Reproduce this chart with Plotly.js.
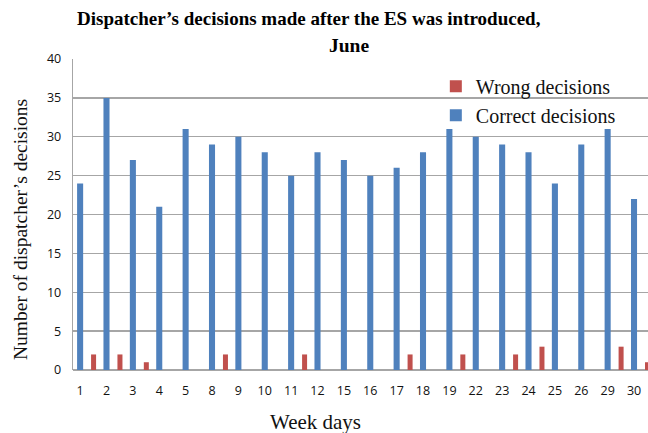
<!DOCTYPE html>
<html>
<head>
<meta charset="utf-8">
<script src="https://cdn.plot.ly/plotly-3.0.1.min.js"></script>
<style>html,body{margin:0;padding:0;background:#fff;}#chart{width:648px;height:433px;}</style>
</head>
<body>
<div id="chart"></div>
<script>
const days = ["1","2","3","4","5","8","9","10","11","12","15","16","17","18","19","22","23","24","25","26","29","30"];
const correctDecisions = [24,35,27,21,31,29,30,28,25,28,27,25,26,28,31,30,29,28,24,29,31,22];
const wrongDecisions = [2,2,1,0,0,2,0,0,2,0,0,0,2,0,2,0,2,3,0,0,3,1];
const yTicks = [0,5,10,15,20,25,30,35,40];

const serif = "Liberation Serif, Times New Roman, serif";
const sans = "Open Sans, DejaVu Sans, sans-serif";

const traces = [
  {type:"bar", name:"Wrong decisions", x:days, y:wrongDecisions,
   marker:{color:"#C0504D"}, width:0.19, offset:0.415},
  {type:"bar", name:"Correct decisions", x:days, y:correctDecisions,
   marker:{color:"#4F81BD"}, width:0.23, offset:-0.115}
];

const layout = {
  width:648, height:433,
  margin:{l:73, r:0, t:59, b:63},
  paper_bgcolor:"#fff", plot_bgcolor:"#fff",
  barmode:"overlay",
  showlegend:true,
  legend:{x:0.631, y:0.975, xanchor:"left", yanchor:"top", bgcolor:"rgba(0,0,0,0)",
    font:{family:serif, size:20, color:"#111"}, tracegroupgap:0, itemwidth:30},
  xaxis:{type:"category", range:[-0.27, 21.53], showgrid:false, zeroline:false,
    showline:false, ticks:"outside", ticklen:9, tickcolor:"rgba(0,0,0,0)",
    tickfont:{family:sans, size:12.5, color:"#111"}, fixedrange:true},
  yaxis:{range:[0,40], tickvals:yTicks, ticktext:yTicks.map(String), showgrid:true,
    gridcolor:"#A6A6A6", gridwidth:1.3, zeroline:true, zerolinecolor:"#A6A6A6", zerolinewidth:1.3,
    showline:true, linecolor:"#A6A6A6", linewidth:1.3,
    ticks:"outside", ticklen:8, tickcolor:"rgba(0,0,0,0)",
    tickfont:{family:sans, size:12.5, color:"#111"}},
  annotations:[
    {text:"<b>Dispatcher’s decisions made after the ES was introduced,</b>", xref:"paper", yref:"paper",
     x:(309-73)/575, y:(370-19)/311, xanchor:"center", yanchor:"middle", showarrow:false,
     font:{family:serif, size:19, color:"#000"}},
    {text:"<b>June</b>", xref:"paper", yref:"paper",
     x:(348.5-73)/575, y:(370-45)/311, xanchor:"center", yanchor:"middle", showarrow:false,
     font:{family:serif, size:19.5, color:"#000"}},
    {text:"Week days", xref:"paper", yref:"paper",
     x:(315-73)/575, y:(370-422)/311, xanchor:"center", yanchor:"middle", showarrow:false,
     font:{family:serif, size:21, color:"#111"}},
    {text:"Number of dispatcher’s decisions", xref:"paper", yref:"paper", textangle:-90,
     x:(20-73)/575, y:(370-230)/311, xanchor:"center", yanchor:"middle", showarrow:false,
     font:{family:serif, size:19.5, color:"#111"}}
  ]
};

Plotly.newPlot("chart", traces, layout, {displayModeBar:false, staticPlot:true});
</script>
</body>
</html>
